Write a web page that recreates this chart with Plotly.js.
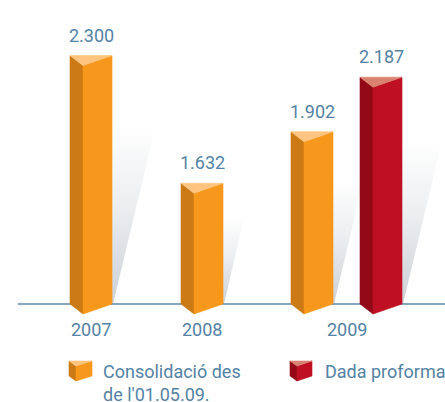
<!DOCTYPE html>
<html>
<head>
<meta charset="utf-8">
<script src="https://cdn.plot.ly/plotly-3.0.1.min.js"></script>
<style>html,body{margin:0;padding:0;background:#fff;}#chart{width:445px;height:402px;}</style>
</head>
<body>
<div id="chart"></div>
<script>
// ---- data ----
const years = ['2007', '2008', '2009'];
const seriesNames = ["Consolidació des<br>de l'01.05.09.", 'Dada proforma'];
const consolidated = [2300, 1632, 1902];
const proforma = [null, null, 2187];

// ---- layout constants ----
const W = 445, H = 402;
const BASE = 1000;          // value at the baseline
const BASE_PX = 304;        // pixel row of the baseline
const PX = 0.1911;          // pixels per unit
const yRange = [BASE - (H - BASE_PX) / PX, BASE + BASE_PX / PX];
const du = p => p / PX;     // pixel height -> value units
const pyToVal = py => BASE + (BASE_PX - py) / PX;

const groupX = [91, 202, 346.5];
const pairOffset = 34.5;
const BAR_W = 42, FOLD = 13, DEPTH = 10;
const TXT = '#5482a4';
const FONT = 'Roboto, "Open Sans", sans-serif';

const palettes = [
  {front: '#F7981D', side: '#CC7A15', top: '#FFC47F'},
  {front: '#BE1022', side: '#930816', top: '#D98272'}
];

function fmt(v) {
  return Math.floor(v / 1000) + '.' + String(v % 1000).padStart(3, '0');
}

function poly(xs, ys, color) {
  return {type: 'scatter', mode: 'lines', x: xs.concat([xs[0]]), y: ys.concat([ys[0]]),
    fill: 'toself', fillcolor: color, line: {color: color, width: 0.6},
    hoverinfo: 'skip', showlegend: false};
}

function prism(cx, top, bottom, w, fold, depth, pal) {
  const xl = cx - w / 2, xf = xl + fold, xr = cx + w / 2;
  return [
    poly([xl, xf, xf, xl], [top, top - depth, bottom - depth, bottom], pal.side),
    poly([xf, xr, xr, xf], [top - depth, top, bottom, bottom - depth], pal.front),
    poly([xl, xr, xf], [top, top, top - depth], pal.top)
  ];
}

const series = [consolidated, proforma];
const bars = [];
years.forEach((y, i) => {
  const present = [];
  series.forEach((s, k) => { if (s[i] !== null && s[i] !== undefined) present.push(k); });
  present.forEach((k, j) => {
    const cx = groupX[i] + (present.length === 1 ? 0 : (j === 0 ? -pairOffset : pairOffset));
    bars.push({cx: cx, v: series[k][i], k: k});
  });
});

const shadows = [], solids = [], annotations = [];
bars.forEach(b => {
  const xr = b.cx + BAR_W / 2;
  const hpx = (b.v - BASE) * PX;
  const sh = 0.72 * hpx;
  shadows.push({type: 'scatter', mode: 'lines',
    x: [xr - 1, xr - 1, xr + 0.245 * sh, xr + 1, xr - 1],
    y: [BASE, BASE + du(sh), BASE + du(sh), BASE, BASE],
    fill: 'toself', line: {width: 0, color: 'rgba(0,0,0,0)'},
    fillgradient: {type: 'vertical', colorscale: [[0, '#cdd0d5'], [0.55, '#eceef0'], [1, '#ffffff']]},
    hoverinfo: 'skip', showlegend: false});
  prism(b.cx, b.v, BASE, BAR_W, FOLD, du(DEPTH), palettes[b.k]).forEach(t => solids.push(t));
  annotations.push({x: b.cx, y: b.v, xref: 'x', yref: 'y', text: fmt(b.v), showarrow: false,
    yanchor: 'bottom', yshift: 8, font: {family: FONT, size: 18, color: TXT}});
});

const baseline = {type: 'scatter', mode: 'lines', x: [18, W + 5], y: [BASE, BASE],
  line: {color: '#5b88aa', width: 1.6}, hoverinfo: 'skip', showlegend: false};

years.forEach((y, i) => {
  annotations.push({x: groupX[i], y: 1 - 329 / H, xref: 'x', yref: 'paper', text: y,
    showarrow: false, yanchor: 'middle', font: {family: FONT, size: 18, color: TXT}});
});

// legend icons + texts
const legendItems = [
  {cx: 80.5, w: 23, fold: 7, textX: 101},
  {cx: 301, w: 22, fold: 7, textX: 323}
];
const legendTraces = [];
legendItems.forEach((it, k) => {
  prism(it.cx, pyToVal(361), pyToVal(376), it.w, it.fold, du(5), palettes[k]).forEach(t => legendTraces.push(t));
  annotations.push({x: it.textX, y: 1 - 359 / H, xref: 'x', yref: 'paper', text: seriesNames[k],
    showarrow: false, xanchor: 'left', yanchor: 'top', align: 'left',
    font: {family: FONT, size: 18, color: TXT}});
});

const data = shadows.concat([baseline], solids, legendTraces);

const layout = {
  width: W, height: H,
  margin: {l: 0, r: 0, t: 0, b: 0, pad: 0},
  paper_bgcolor: '#ffffff', plot_bgcolor: '#ffffff',
  xaxis: {range: [0, W], visible: false, fixedrange: true},
  yaxis: {range: yRange, visible: false, fixedrange: true},
  showlegend: false,
  annotations: annotations
};

Plotly.newPlot('chart', data, layout, {displayModeBar: false, staticPlot: true});
</script>
</body>
</html>
